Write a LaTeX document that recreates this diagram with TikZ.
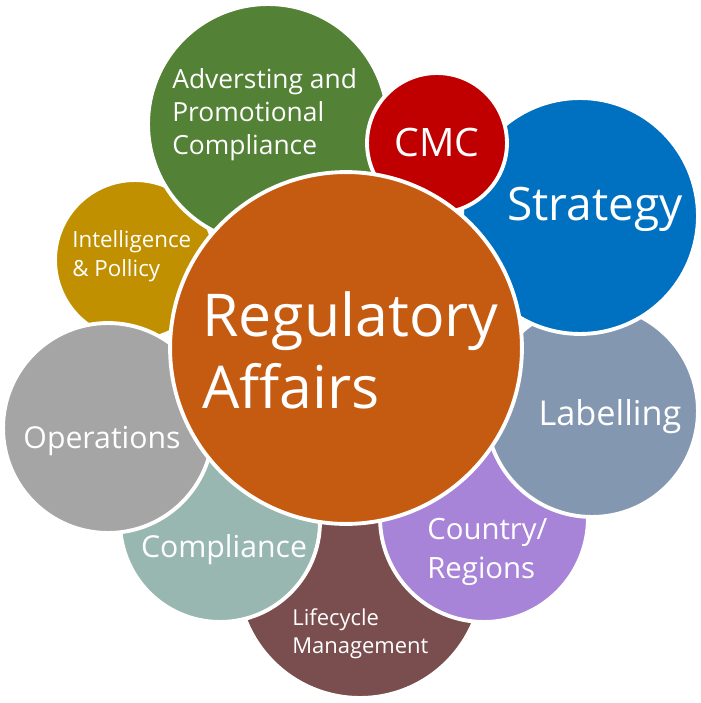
\documentclass[tikz,border=0pt]{standalone}
\usepackage{fontspec}
\setmainfont{Open Sans}
\definecolor{raorange}{HTML}{C55A11}
\definecolor{advgreen}{HTML}{538135}
\definecolor{cmcred}{HTML}{C00000}
\definecolor{stratblue}{HTML}{0070C0}
\definecolor{intgold}{HTML}{C09000}
\definecolor{opgrey}{HTML}{A5A5A5}
\definecolor{labblue}{HTML}{8497B0}
\definecolor{ctrypurple}{HTML}{A884D8}
\definecolor{compteal}{HTML}{97B7B0}
\definecolor{lifebrown}{HTML}{7A4E4E}
\begin{document}
\begin{tikzpicture}[x=0.02cm, y=-0.02cm, line join=round, line cap=round,
	bubble/.style 2 args={circle, fill=#1, draw=white, line width=2.2pt, inner sep=0pt, minimum size=#2*0.04cm},
	txt/.style={text=white, align=left, inner sep=0pt}]
	\def\fs#1#2{\fontsize{#1}{#2}\selectfont} % co chu, khoang dong
	\useasboundingbox (0,0) rectangle (700,703);
	% cac vong tron nho, tu duoi len tren
	\node[bubble={lifebrown}{123}] (life) at (360,575) {};
	\node[bubble={compteal}{100}] (comp) at (220,522) {};
	\node[bubble={intgold}{80}] (intel) at (135,260) {};
	\node[bubble={opgrey}{105}] (oper) at (108,428) {};
	\node[bubble={ctrypurple}{104}] (ctry) at (484,518) {};
	\node[bubble={labblue}{106}] (lab) at (592,411) {};
	\node[bubble={stratblue}{118}] (strat) at (580,216) {};
	\node[bubble={advgreen}{120}] (adv) at (268,124) {};
	\node[bubble={cmcred}{70}] (cmc) at (437,143) {};
	% vong tron giua
	\node[bubble={raorange}{176}] (ra) at (346,348) {};
	% chu
	\node[txt, anchor=west, font=\fs{33.6}{41}] (ratxt) at (202,350) {Regulatory\\Affairs};
	\node[txt, anchor=west, font=\fs{15}{18.8}] (advtxt) at (172,115) {Adversting and\\Promotional\\Compliance};
	\node[txt, font=\fs{22.3}{27}] (cmctxt) at (cmc) {CMC};
	\node[txt, font=\fs{26.2}{30}] (strattxt) at (595,209) {Strategy};
	\node[txt, anchor=west, font=\fs{12.7}{16.5}] (inteltxt) at (72,256) {Intelligence\\\& Pollicy};
	\node[txt, font=\fs{17.2}{21}] (opertxt) at (102,441) {Operations};
	\node[txt, font=\fs{19.5}{22}] (labtxt) at (610,417) {Labelling};
	\node[txt, anchor=west, font=\fs{16.7}{22.2}] (ctrytxt) at (427,552) {Country/\\Regions};
	\node[txt, font=\fs{17.2}{21}] (comptxt) at (224,550) {Compliance};
	\node[txt, anchor=west, font=\fs{12.5}{15.9}] (lifetxt) at (292,634) {Lifecycle\\Management};
\end{tikzpicture}
\end{document}
